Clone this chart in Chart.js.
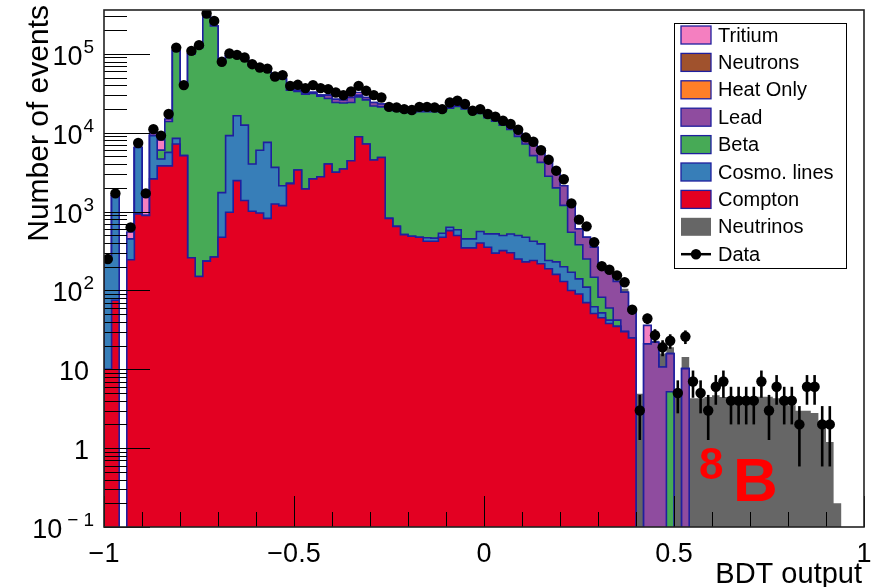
<!DOCTYPE html>
<html>
<head>
<meta charset="utf-8">
<title>BDT output</title>
<script src="https://cdn.jsdelivr.net/npm/chart.js@4.4.1/dist/chart.umd.min.js"></script>
<style>
  html, body { margin: 0; padding: 0; background: #fff; }
  #wrap { width: 875px; height: 587px; }
</style>
</head>
<body>
<div id="wrap"><canvas id="bdtChart" width="875" height="587"></canvas></div>
<script>
// Binning of the BDT output axis
const BDT_MIN = -1;
const BDT_MAX = 1;
const N_BINS = 100;
const binWidth = (BDT_MAX - BDT_MIN) / N_BINS;
const binEdges = Array.from({ length: N_BINS + 1 }, (_, i) => BDT_MIN + i * binWidth);

// Axis ticks
const xTickValues = [-1, -0.5, 0, 0.5, 1];
const xTickLabels = ['\u22121', '\u22120.5', '0', '0.5', '1'];
const yTickValues = [0.1, 1, 10, 100, 1e3, 1e4, 1e5];
const yTickLabels = [['10', '\u22121'], ['1', ''], ['10', ''], ['10', '2'], ['10', '3'], ['10', '4'], ['10', '5']];

// Observed events per bin
const dataCounts = [
  250, 1700, 0, 630, 7400, 1700, 11100, 9200, 17300, 120000,
  40200, 109000, 129000, 325000, 262000, 79300, 101000, 97000, 89800, 74000,
  67100, 65000, 51600, 53700, 39300, 40500, 36800, 40200, 36800, 35700,
  32400, 30000, 33300, 39300, 34000, 30000, 28000, 21300, 20900, 19900,
  19400, 21300, 21300, 20900, 19900, 24200, 25400, 23100, 19000, 19900,
  17300, 16000, 14200, 12900, 10900, 8730, 7690, 6000, 4550, 3300,
  2570, 1270, 790, 650, 408, 203, 183, 155, 127, 57,
  3, 44, 27, 19, 23, 5, 26, 7, 5, 3,
  6, 7, 4, 4, 4, 4, 7, 3, 6, 4,
  4, 2, 6, 6, 2, 2, 0, 0, 0, 0
];

// Stacked simulation, each array is the stack height up to and including that component
const stackCompton = [
  10, 75, 0, 245, 935, 890, 2600, 3800, 3800, 7200,
  5120, 260, 150, 235, 265, 473, 980, 2470, 1380, 1010,
  960, 820, 1250, 1190, 2250, 3370, 1940, 2600, 2770, 4020,
  3150, 3470, 4420, 8900, 7200, 4510, 4860, 820, 650, 510,
  487, 473, 421, 421, 473, 574, 497, 347, 347, 400,
  353, 297, 320, 300, 250, 230, 240, 218, 188, 160,
  130, 100, 90, 70, 51, 45, 38, 35, 30, 25,
  0, 0, 0, 0, 0, 0, 0, 0, 0, 0,
  0, 0, 0, 0, 0, 0, 0, 0, 0, 0,
  0, 0, 0, 0, 0, 0, 0, 0, 0, 0
];
const stackCosmo = [
  245, 1600, 0, 450, 6500, 890, 9200, 4650, 5640, 8470,
  5120, 260, 150, 235, 265, 1740, 9200, 16400, 12500, 4020,
  6000, 7540, 3640, 2130, 2300, 3370, 1940, 2600, 2770, 4020,
  3150, 3470, 4420, 8900, 7200, 4510, 4860, 820, 650, 510,
  487, 473, 465, 460, 530, 632, 589, 451, 451, 558,
  522, 522, 497, 520, 497, 473, 420, 390, 240, 230,
  200, 170, 140, 110, 62, 52, 42, 35, 30, 25,
  0, 0, 0, 0, 0, 0, 0, 0, 0, 0,
  0, 0, 0, 0, 0, 0, 0, 0, 0, 0,
  0, 0, 0, 0, 0, 0, 0, 0, 0, 0
];
const stackBeta = [
  245, 1600, 0, 450, 6500, 890, 9200, 6000, 13900, 110000,
  40000, 100000, 120000, 300000, 226000, 78000, 95000, 93000, 86000, 71000,
  64000, 62000, 50000, 48000, 34700, 33300, 30900, 31500, 29000, 27200,
  24200, 23800, 24200, 28500, 26100, 21800, 21300, 19900, 19000, 18500,
  18000, 18500, 18500, 18500, 18500, 20500, 21500, 20000, 18000, 17500,
  15500, 14000, 12500, 11000, 9000, 7200, 5120, 4210, 2800, 2000,
  1200, 547, 380, 250, 147, 82, 60, 42, 30, 25,
  0, 0, 0, 0, 5.2, 0, 0, 0, 0, 0,
  0, 0, 0, 0, 0, 0, 0, 0, 0, 0,
  0, 0, 0, 0, 0, 0, 0, 0, 0, 0
];
const stackLead = [
  245, 1600, 0, 450, 6500, 890, 9200, 6000, 13900, 110000,
  40000, 100000, 120000, 300000, 226000, 78000, 95000, 93000, 86000, 71000,
  64000, 62000, 50000, 48000, 35500, 34500, 32000, 32500, 30000, 30000,
  26600, 26100, 28000, 30000, 28000, 24200, 23100, 20400, 19600, 19000,
  18500, 19000, 19000, 19000, 19000, 21000, 22000, 20500, 18500, 18000,
  16000, 14500, 13200, 12000, 10000, 8700, 7540, 6300, 4650, 3300,
  2130, 1190, 604, 473, 353, 200, 171, 130, 95, 55,
  0, 21, 22, 10.7, 15.8, 0, 10.2, 0, 0, 0,
  0, 0, 0, 0, 0, 0, 0, 0, 0, 0,
  0, 0, 0, 0, 0, 0, 0, 0, 0, 0
];
const stackTritium = [
  245, 1600, 0, 550, 6500, 1520, 9900, 8100, 14900, 110000,
  40000, 100000, 120000, 300000, 226000, 78000, 95000, 93000, 86000, 71000,
  64000, 62000, 50000, 48000, 35500, 34500, 32000, 32500, 30000, 30000,
  26600, 26100, 29500, 32400, 28000, 24200, 23100, 20400, 19600, 19000,
  18500, 19000, 19000, 19000, 19000, 21000, 22000, 20500, 18500, 18000,
  16000, 14500, 13200, 12000, 10000, 8700, 7540, 6300, 4650, 3300,
  2130, 1190, 604, 473, 353, 200, 171, 130, 95, 55,
  0, 36, 22, 10.7, 15.8, 0, 10.2, 0, 0, 0,
  0, 0, 0, 0, 0, 0, 0, 0, 0, 0,
  0, 0, 0, 0, 0, 0, 0, 0, 0, 0
];
const stackNeutrinos = [
  245, 1600, 0, 550, 6500, 1520, 9900, 8100, 14900, 110000,
  40000, 100000, 120000, 300000, 226000, 78000, 95000, 93000, 86000, 71000,
  64000, 62000, 50000, 48000, 35500, 34500, 32000, 32500, 30000, 30000,
  26600, 26100, 29500, 32400, 28000, 24200, 23100, 20400, 19600, 19000,
  18500, 19000, 19000, 19000, 19000, 21000, 22000, 20500, 18500, 18000,
  16000, 14500, 13200, 12000, 10000, 8700, 7540, 6300, 4650, 3300,
  2130, 1190, 610, 480, 360, 205, 175, 135, 105, 56,
  4.9, 36, 23, 15.8, 19.1, 5, 14.3, 4.3, 4.3, 4.45,
  4.7, 4.45, 4.45, 4.45, 4.45, 4.5, 4.5, 4.5, 4.3, 4.05,
  3.5, 2.97, 2.97, 2.8, 1.95, 1.2, 0.2, 0, 0, 0
];

const OUTLINE = '#1f1f9e';
const COLORS = {
  tritium: '#f47fc0',
  neutrons: '#a0522d',
  heatOnly: '#ff7f27',
  lead: '#8f4c9f',
  beta: '#47aa56',
  cosmo: '#377eb8',
  compton: '#e30022',
  neutrinos: '#666666'
};

const legendEntries = [
  { label: 'Tritium', color: COLORS.tritium, outline: true },
  { label: 'Neutrons', color: COLORS.neutrons, outline: true },
  { label: 'Heat Only', color: COLORS.heatOnly, outline: true },
  { label: 'Lead', color: COLORS.lead, outline: true },
  { label: 'Beta', color: COLORS.beta, outline: true },
  { label: 'Cosmo. lines', color: COLORS.cosmo, outline: true },
  { label: 'Compton', color: COLORS.compton, outline: true },
  { label: 'Neutrinos', color: COLORS.neutrinos, outline: false },
  { label: 'Data', marker: true }
];

const FONT = '"Liberation Sans", Arial, Helvetica, sans-serif';
// empty bins are pushed below the log axis minimum so the outline drops to the frame
const EMPTY_LEVEL = 1e-3;

function stepPoints(levels) {
  const pts = [{ x: BDT_MIN, y: EMPTY_LEVEL }];
  levels.forEach((v, i) => pts.push({ x: binEdges[i], y: v > 0 ? v : EMPTY_LEVEL }));
  const last = levels[levels.length - 1];
  pts.push({ x: BDT_MAX, y: last > 0 ? last : EMPTY_LEVEL });
  pts.push({ x: BDT_MAX, y: EMPTY_LEVEL });
  return pts;
}

function histDataset(label, levels, fillColor, lineColor) {
  return {
    label,
    data: stepPoints(levels),
    stepped: true,
    fill: 'start',
    backgroundColor: fillColor,
    borderColor: lineColor || fillColor,
    borderWidth: lineColor ? 1.6 : 0,
    pointRadius: 0,
    pointHoverRadius: 0
  };
}

const dataPoints = [];
dataCounts.forEach((n, i) => {
  if (n > 0) dataPoints.push({ x: (binEdges[i] + binEdges[i + 1]) / 2, y: n });
});

// Poisson error bars under the data markers
const errorBars = {
  id: 'errorBars',
  beforeDatasetDraw(chart, args) {
    if (args.index !== 0) return;
    const { ctx, chartArea, scales: { x, y } } = chart;
    ctx.save();
    ctx.beginPath();
    ctx.rect(chartArea.left, chartArea.top, chartArea.width, chartArea.height);
    ctx.clip();
    ctx.strokeStyle = '#000';
    ctx.lineWidth = 2.6;
    dataPoints.forEach(p => {
      const err = Math.sqrt(p.y);
      const lo = Math.max(p.y - err, EMPTY_LEVEL);
      const px = x.getPixelForValue(p.x);
      ctx.beginPath();
      ctx.moveTo(px, y.getPixelForValue(lo));
      ctx.lineTo(px, y.getPixelForValue(p.y + err));
      ctx.stroke();
    });
    ctx.restore();
  }
};

// exponent text, a leading minus gets a little extra room like TLatex gives it
function drawExponent(ctx, exp, right, baseline) {
  const neg = exp.startsWith('\u2212');
  const digits = neg ? exp.slice(1) : exp;
  const wd = ctx.measureText(digits).width;
  const wm = neg ? ctx.measureText('\u2212').width + 5 : 0;
  const left = right - wd - wm;
  if (neg) ctx.fillText('\u2212', left, baseline);
  ctx.fillText(digits, left + wm, baseline);
  return wd + wm + (neg ? 4 : 0);
}

// Frame, inward ticks, labels, legend and annotation in ROOT style
const rootFrame = {
  id: 'rootFrame',
  afterDatasetsDraw(chart) {
    const { ctx, chartArea: a, scales: { x, y } } = chart;
    ctx.save();
    ctx.strokeStyle = '#000';
    ctx.lineWidth = 1;

    // x ticks every 0.1, long ones at the labelled values
    for (let k = -10; k <= 10; k++) {
      const v = k / 10;
      const px = Math.round(x.getPixelForValue(v)) + 0.5;
      const len = k % 5 === 0 ? 31 : 15;
      ctx.beginPath();
      ctx.moveTo(px, a.bottom);
      ctx.lineTo(px, a.bottom - len);
      ctx.stroke();
    }

    // y ticks per decade with 2..9 subdivisions
    for (let e = -1; e <= 5; e++) {
      for (let m = 1; m <= 9; m++) {
        const v = m * Math.pow(10, e);
        if (v > y.max) break;
        const py = Math.round(y.getPixelForValue(v)) + 0.5;
        const len = m === 1 ? 46 : 23;
        ctx.beginPath();
        ctx.moveTo(a.left, py);
        ctx.lineTo(a.left + len, py);
        ctx.stroke();
      }
    }

    ctx.strokeStyle = '#222';
    ctx.lineWidth = 1.6;
    ctx.strokeRect(a.left, a.top, a.right - a.left, a.bottom - a.top);
    ctx.restore();
  },
  afterDraw(chart) {
    const { ctx, scales: { x, y } } = chart;
    ctx.save();
    ctx.fillStyle = '#000';

    // x tick labels
    ctx.font = '27px ' + FONT;
    ctx.textAlign = 'center';
    ctx.textBaseline = 'alphabetic';
    xTickValues.forEach((v, i) => {
      ctx.fillText(xTickLabels[i], x.getPixelForValue(v), 562);
    });

    // y tick labels, right aligned, with a raised exponent
    ctx.textAlign = 'left';
    yTickValues.forEach((v, i) => {
      const [base, exp] = yTickLabels[i];
      const py = y.getPixelForValue(v);
      ctx.font = '27px ' + FONT;
      const wb = ctx.measureText(base).width;
      if (exp) {
        ctx.font = '19px ' + FONT;
        const we = drawExponent(ctx, exp, 94, py - 1);
        ctx.font = '27px ' + FONT;
        ctx.fillText(base, 94 - we - 1 - wb, py + 11);
      } else {
        ctx.fillText(base, 89 - wb, py + 11);
      }
    });

    // axis titles
    ctx.font = '29px ' + FONT;
    ctx.textAlign = 'right';
    ctx.fillText('BDT output', 862, 583);
    ctx.save();
    ctx.translate(48, 5);
    ctx.rotate(-Math.PI / 2);
    ctx.font = '30px ' + FONT;
    ctx.textAlign = 'right';
    ctx.fillText('Number of events', 0, 0);
    ctx.restore();

    // 8B label
    ctx.fillStyle = '#ff0000';
    ctx.textAlign = 'left';
    ctx.font = 'bold 44px ' + FONT;
    ctx.fillText('8', 699, 479);
    ctx.font = 'bold 62px ' + FONT;
    ctx.fillText('B', 733, 501);

    // legend box
    const lx = 674, ly = 23, lw = 172, lh = 245;
    ctx.fillStyle = '#fff';
    ctx.fillRect(lx, ly, lw, lh);
    ctx.strokeStyle = '#000';
    ctx.lineWidth = 1;
    ctx.strokeRect(lx + 0.5, ly + 0.5, lw, lh);
    ctx.font = '20px ' + FONT;
    ctx.textBaseline = 'middle';
    legendEntries.forEach((e, i) => {
      const cy = 35 + i * 27.4;
      if (e.marker) {
        ctx.strokeStyle = '#000';
        ctx.lineWidth = 2.5;
        ctx.beginPath();
        ctx.moveTo(681, cy);
        ctx.lineTo(711, cy);
        ctx.stroke();
        ctx.fillStyle = '#000';
        ctx.beginPath();
        ctx.arc(696, cy, 5.2, 0, Math.PI * 2);
        ctx.fill();
      } else {
        ctx.fillStyle = e.color;
        ctx.fillRect(681, cy - 9, 30, 18);
        if (e.outline) {
          ctx.strokeStyle = OUTLINE;
          ctx.lineWidth = 1.3;
          ctx.strokeRect(681, cy - 9, 30, 18);
        }
      }
      ctx.fillStyle = '#000';
      ctx.fillText(e.label, 718, cy + 1);
    });
    ctx.restore();
  }
};

new Chart(document.getElementById('bdtChart'), {
  type: 'line',
  data: {
    datasets: [
      {
        label: 'Data',
        data: dataPoints,
        showLine: false,
        pointRadius: 5.2,
        pointHoverRadius: 5.2,
        pointBackgroundColor: '#000',
        pointBorderColor: '#000',
        pointBorderWidth: 0
      },
      histDataset('Compton', stackCompton, COLORS.compton, OUTLINE),
      histDataset('Cosmo. lines', stackCosmo, COLORS.cosmo, OUTLINE),
      histDataset('Beta', stackBeta, COLORS.beta, OUTLINE),
      histDataset('Lead', stackLead, COLORS.lead, OUTLINE),
      histDataset('Tritium', stackTritium, COLORS.tritium, OUTLINE),
      histDataset('Neutrinos', stackNeutrinos, COLORS.neutrinos, null)
    ]
  },
  options: {
    responsive: false,
    animation: false,
    devicePixelRatio: 1,
    events: [],
    layout: { padding: { left: 104, right: 11, top: 10, bottom: 60 } },
    plugins: { legend: { display: false }, tooltip: { enabled: false } },
    scales: {
      x: { type: 'linear', min: BDT_MIN, max: BDT_MAX, display: false },
      y: { type: 'logarithmic', min: 0.1, max: 3.6e5, display: false }
    }
  },
  plugins: [errorBars, rootFrame]
});
</script>
</body>
</html>
